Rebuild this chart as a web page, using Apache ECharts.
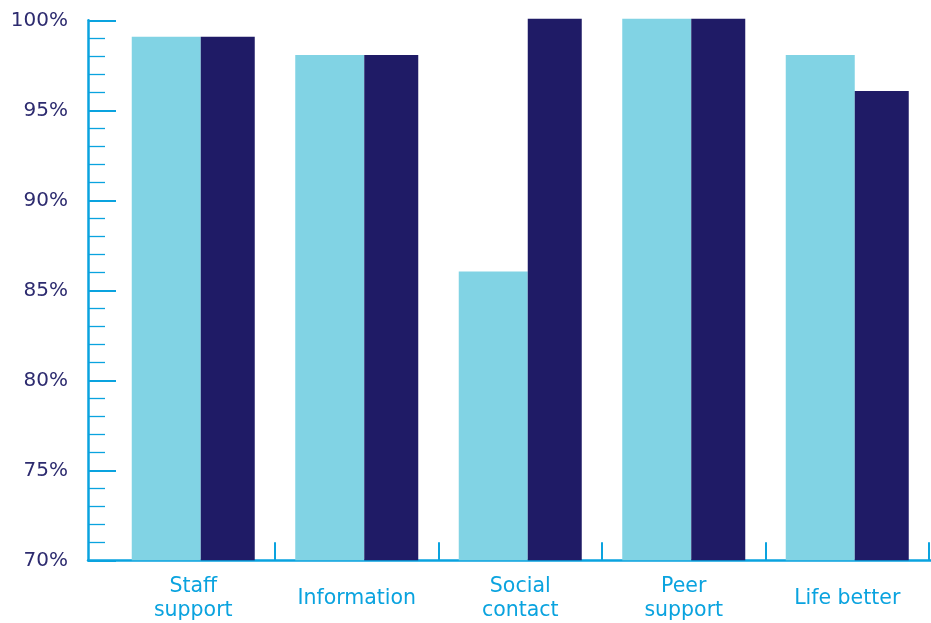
<!DOCTYPE html>
<html>
<head>
<meta charset="utf-8">
<script src="https://cdn.jsdelivr.net/npm/echarts@6/dist/echarts.min.js"></script>
<style>
html,body{margin:0;padding:0;background:#fff;}
#chart{width:931px;height:623px;}
</style>
</head>
<body>
<div id="chart"></div>
<script>
var categories = ['Staff\nsupport', 'Information', 'Social\ncontact', 'Peer\nsupport', 'Life better'];
var seriesLight = [99, 98, 86, 100, 98];
var seriesDark = [99, 98, 100, 100, 96];
var yMin = 70, yMax = 100, yStep = 5;

var AXIS = '#0aa3df';
var chart = echarts.init(document.getElementById('chart'), null, {renderer: 'canvas'});
chart.setOption({
  animation: false,
  backgroundColor: '#ffffff',
  grid: [
    {left: 88, right: 0, top: 20.3, height: 540, containLabel: false},
    {left: 111.5, right: 2, top: 18.8, height: 541.5, containLabel: false}
  ],
  xAxis: [
    {
      gridIndex: 0, type: 'value', min: 0, max: 1,
      axisLine: {show: true, lineStyle: {color: AXIS, width: 2.5}},
      axisTick: {show: false}, axisLabel: {show: false}, splitLine: {show: false}
    },
    {
      gridIndex: 1, type: 'category', data: categories, boundaryGap: true,
      axisLine: {show: false},
      axisTick: {
        show: true, inside: true, length: 18,
        interval: function (index) { return index !== 0; },
        lineStyle: {color: AXIS, width: 2}
      },
      axisLabel: {
        show: true, interval: 0, color: AXIS, fontFamily: 'DejaVu Sans',
        fontSize: 20.5, lineHeight: 24, verticalAlign: 'middle', margin: 38
      },
      splitLine: {show: false}
    }
  ],
  yAxis: [
    {
      gridIndex: 0, type: 'value', min: yMin, max: yMax, interval: yStep,
      axisLine: {show: true, lineStyle: {color: AXIS, width: 2.5}},
      axisTick: {show: true, inside: true, length: 28, lineStyle: {color: AXIS, width: 2}},
      minorTick: {show: true, splitNumber: 5, length: 17, lineStyle: {color: AXIS, width: 1.3}},
      axisLabel: {
        show: true, formatter: '{value}%', color: '#2d2b6f',
        fontFamily: 'DejaVu Sans', fontSize: 20, margin: 20
      },
      splitLine: {show: false}
    },
    {
      gridIndex: 1, type: 'value', min: yMin, max: yMax, interval: yStep,
      show: false, splitLine: {show: false}
    }
  ],
  series: [
    {
      type: 'bar', xAxisIndex: 1, yAxisIndex: 1, data: seriesLight,
      barWidth: 69, barGap: '0%', itemStyle: {color: '#81d3e4'}
    },
    {
      type: 'bar', xAxisIndex: 1, yAxisIndex: 1, data: seriesDark,
      barWidth: 54, barGap: '0%', itemStyle: {color: '#1f1b66'}
    }
  ]
});
</script>
</body>
</html>
